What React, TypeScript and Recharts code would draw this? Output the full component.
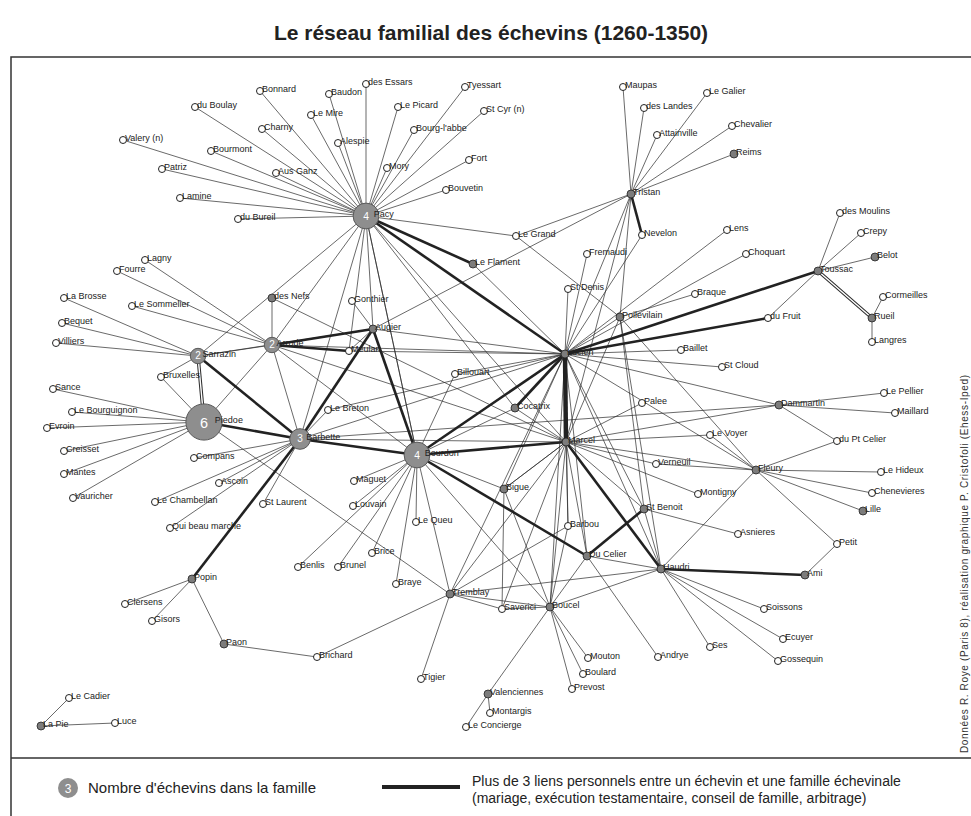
import React from 'react';
import { ScatterChart, Scatter, XAxis, YAxis, ReferenceLine } from 'recharts';

const W = 971;
const H = 816;

// layout position of each family in the network drawing
const OPEN_NODES: [string, number, number][] = [
  ['Bonnard', 260, 91], ['du Boulay', 195, 107], ['Charny', 262, 129], ['Valery (n)', 123, 140],
  ['Bourmont', 211, 151], ['Patriz', 162, 169], ['Aus Ganz', 276, 173], ['Lamine', 180, 198],
  ['du  Bureil', 238, 219], ['Le Mire', 311, 115], ['Baudon', 329, 94], ['des Essars', 366, 84],
  ['Le Picard', 398, 107], ['Tyessart', 465, 87], ['St Cyr (n)', 484, 111], ["Bourg-l'abbe", 414, 130],
  ['Alespie', 338, 143], ['Mory', 387, 168], ['Fort', 469, 160], ['Bouvetin', 446, 190],
  ['Le Grand', 516, 236], ['Maupas', 623, 87], ['des Landes', 644, 108], ['Attainville', 657, 135],
  ['Le Galier', 707, 93], ['Chevalier', 732, 126], ['Nevelon', 642, 235], ['Lens', 727, 230],
  ['des Moulins', 840, 213], ['Crepy', 861, 233], ['Lagny', 145, 260], ['Fourre', 117, 271],
  ['La Brosse', 64, 298], ['Le Sommelier', 132, 306], ['Bequet', 62, 323], ['Villiers', 56, 343],
  ['Bruxelles', 161, 377], ['Sance', 53, 389], ['Le Bourguignon', 72, 412], ['Evroin', 47, 428],
  ['Creisset', 64, 451], ['Mantes', 64, 474], ['Vauricher', 73, 498], ['Compans', 194, 458],
  ['Ascoin', 219, 483], ['Le Chambellan', 155, 502], ['St Laurent', 263, 504], ['Qui beau marche', 170, 528],
  ['Fremaudi', 587, 254], ['St Denis', 568, 289], ['Gonthier', 352, 301], ['Meulan', 349, 351],
  ['Billouart', 455, 374], ['Le Breton', 328, 410], ['Choquart', 746, 254], ['Braque', 695, 294],
  ['Cormeilles', 883, 297], ['du Fruit', 768, 318], ['Langres', 872, 342], ['Baillet', 681, 350],
  ['St Cloud', 722, 367], ['Le Pellier', 884, 393], ['Palee', 642, 403], ['Maillard', 895, 413],
  ['Le Voyer', 710, 435], ['du Pt Celier', 837, 441], ['Verneuil', 656, 464], ['Le Hideux', 881, 472],
  ['Chenevieres', 872, 493], ['Montigny', 698, 494], ['Asnieres', 738, 534], ['Petit', 837, 544],
  ['Maguet', 354, 481], ['Louvain', 353, 506], ['Le Queu', 416, 522], ['Barbou', 568, 526],
  ['Brice', 372, 553], ['Brunel', 338, 567], ['Benlis', 298, 567], ['Braye', 396, 584],
  ['Clersens', 125, 604], ['Gisors', 152, 621], ['Brichard', 317, 657], ['Le Cadier', 69, 698],
  ['Luce', 115, 723], ['Saverici', 502, 609], ['Mouton', 588, 658], ['Boulard', 583, 674],
  ['Tigier', 421, 679], ['Prevost', 572, 689], ['Montargis', 490, 713], ['Le Concierge', 466, 727],
  ['Soissons', 764, 609], ['Ecuyer', 783, 639], ['Ses', 710, 647], ['Andrye', 658, 657],
  ['Gossequin', 778, 661],
];

// familles échevinales (one échevin)
const FILLED_NODES: [string, number, number][] = [
  ['Tristan', 631, 194], ['Reims', 734, 154], ['des Nefs', 272, 298], ['Le Flament', 473, 264],
  ['Augier', 373, 329], ['Poilevilain', 620, 317], ['Lucien', 565, 354], ['Cocatrix', 515, 408],
  ['Belot', 875, 257], ['Toussac', 818, 271], ['Rueil', 872, 318], ['Dammartin', 779, 405],
  ['Marcel', 566, 442], ['Bigue', 504, 489], ['Du Celier', 587, 556], ['Fleury', 756, 470],
  ['St Benoit', 644, 509], ['Lille', 863, 511], ['Haudri', 661, 569], ['Ami', 805, 575],
  ['Popin', 192, 579], ['Tremblay', 450, 594], ['Boucel', 550, 607], ['Paon', 224, 644],
  ['Valenciennes', 488, 694], ['La Pie', 41, 726],
];

// families with several échevins: name, x, y, count
const BIG_NODES: [string, number, number, number][] = [
  ['Pacy', 366, 216, 4], ['Piedoe', 204, 422, 6], ['Sarrazin', 198, 356, 2],
  ['Arrode', 272, 345, 2], ['Barbette', 300, 439, 3], ['Bourdon', 417, 455, 4],
];

const THIN_EDGES: [string, string][] = [
  ['Pacy', 'Bonnard'], ['Pacy', 'du Boulay'], ['Pacy', 'Charny'], ['Pacy', 'Valery (n)'],
  ['Pacy', 'Bourmont'], ['Pacy', 'Patriz'], ['Pacy', 'Aus Ganz'], ['Pacy', 'Lamine'],
  ['Pacy', 'du  Bureil'], ['Pacy', 'Le Mire'], ['Pacy', 'Baudon'], ['Pacy', 'des Essars'],
  ['Pacy', 'Le Picard'], ['Pacy', 'Tyessart'], ['Pacy', 'St Cyr (n)'], ['Pacy', "Bourg-l'abbe"],
  ['Pacy', 'Alespie'], ['Pacy', 'Mory'], ['Pacy', 'Fort'], ['Pacy', 'Bouvetin'],
  ['Pacy', 'Le Grand'], ['Pacy', 'Arrode'], ['Pacy', 'Sarrazin'], ['Pacy', 'Barbette'],
  ['Pacy', 'Bourdon'], ['Pacy', 'Augier'], ['Pacy', 'Cocatrix'], ['Pacy', 'Marcel'], ['Pacy', 'Meulan'],
  ['Tristan', 'Maupas'], ['Tristan', 'des Landes'], ['Tristan', 'Attainville'], ['Tristan', 'Le Galier'],
  ['Tristan', 'Chevalier'], ['Tristan', 'Reims'], ['Tristan', 'Le Grand'], ['Tristan', 'Lucien'],
  ['Tristan', 'Augier'], ['Tristan', 'Poilevilain'], ['Tristan', 'Marcel'],
  ['Le Grand', 'Poilevilain'],
  ['Lucien', 'St Denis'], ['Lucien', 'Fremaudi'], ['Lucien', 'Nevelon'], ['Lucien', 'Lens'],
  ['Lucien', 'Choquart'], ['Lucien', 'Poilevilain'], ['Lucien', 'Baillet'], ['Lucien', 'St Cloud'],
  ['Lucien', 'Dammartin'], ['Lucien', 'Fleury'], ['Lucien', 'Haudri'], ['Lucien', 'St Benoit'],
  ['Lucien', 'Du Celier'], ['Lucien', 'Boucel'], ['Lucien', 'Barbou'], ['Lucien', 'Bigue'],
  ['Lucien', 'Le Flament'], ['Lucien', 'Augier'], ['Lucien', 'Arrode'], ['Lucien', 'Meulan'],
  ['Lucien', 'Le Breton'], ['Lucien', 'Billouart'], ['Lucien', 'Barbette'], ['Lucien', 'Tremblay'],
  ['Marcel', 'Palee'], ['Marcel', 'Le Voyer'], ['Marcel', 'Verneuil'], ['Marcel', 'Montigny'],
  ['Marcel', 'Fleury'], ['Marcel', 'Dammartin'], ['Marcel', 'St Benoit'], ['Marcel', 'Du Celier'],
  ['Marcel', 'Boucel'], ['Marcel', 'Barbou'], ['Marcel', 'Bigue'], ['Marcel', 'Tremblay'],
  ['Marcel', 'Saverici'], ['Marcel', 'Cocatrix'], ['Marcel', 'Barbette'], ['Marcel', 'Arrode'],
  ['Marcel', 'Poilevilain'], ['Marcel', 'des Nefs'],
  ['Poilevilain', 'Braque'], ['Poilevilain', 'Fleury'], ['Poilevilain', 'Haudri'], ['Poilevilain', 'St Benoit'],
  ['Dammartin', 'Le Pellier'], ['Dammartin', 'Maillard'], ['Dammartin', 'du Pt Celier'], ['Dammartin', 'Barbette'],
  ['Fleury', 'du Pt Celier'], ['Fleury', 'Le Hideux'], ['Fleury', 'Chenevieres'], ['Fleury', 'Lille'],
  ['Fleury', 'Petit'], ['Fleury', 'Haudri'], ['Fleury', 'Le Voyer'], ['Fleury', 'Verneuil'],
  ['Haudri', 'Soissons'], ['Haudri', 'Ecuyer'], ['Haudri', 'Gossequin'], ['Haudri', 'Ses'],
  ['Haudri', 'St Benoit'], ['Haudri', 'Boucel'], ['Haudri', 'Tremblay'], ['Haudri', 'Du Celier'],
  ['St Benoit', 'Asnieres'],
  ['Boucel', 'Mouton'], ['Boucel', 'Boulard'], ['Boucel', 'Prevost'], ['Boucel', 'Valenciennes'],
  ['Boucel', 'Saverici'], ['Boucel', 'Tremblay'], ['Boucel', 'Bigue'], ['Boucel', 'Du Celier'],
  ['Boucel', 'Bourdon'], ['Boucel', 'Barbou'],
  ['Valenciennes', 'Montargis'], ['Valenciennes', 'Le Concierge'],
  ['Tremblay', 'Tigier'], ['Tremblay', 'Brichard'], ['Tremblay', 'Saverici'], ['Tremblay', 'Piedoe'],
  ['Tremblay', 'Barbou'], ['Tremblay', 'Bourdon'],
  ['Popin', 'Clersens'], ['Popin', 'Gisors'], ['Popin', 'Paon'], ['Paon', 'Brichard'],
  ['La Pie', 'Le Cadier'], ['La Pie', 'Luce'], ['Andrye', 'Du Celier'],
  ['Bigue', 'Bourdon'], ['Bigue', 'Marcel'], ['Bigue', 'Saverici'],
  ['Bourdon', 'Maguet'], ['Bourdon', 'Louvain'], ['Bourdon', 'Le Queu'], ['Bourdon', 'Brice'],
  ['Bourdon', 'Brunel'], ['Bourdon', 'Braye'], ['Bourdon', 'Benlis'], ['Bourdon', 'Cocatrix'],
  ['Bourdon', 'Billouart'], ['Bourdon', 'Pacy'],
  ['Barbette', 'Compans'], ['Barbette', 'Ascoin'], ['Barbette', 'Le Chambellan'], ['Barbette', 'St Laurent'],
  ['Barbette', 'Qui beau marche'], ['Barbette', 'Arrode'], ['Barbette', 'Le Breton'],
  ['Piedoe', 'Sance'], ['Piedoe', 'Le Bourguignon'], ['Piedoe', 'Evroin'], ['Piedoe', 'Creisset'],
  ['Piedoe', 'Mantes'], ['Piedoe', 'Vauricher'], ['Piedoe', 'Bruxelles'], ['Piedoe', 'Arrode'],
  ['Sarrazin', 'Villiers'], ['Sarrazin', 'Bequet'], ['Sarrazin', 'La Brosse'], ['Sarrazin', 'Bruxelles'],
  ['Sarrazin', 'Arrode'], ['Sarrazin', 'Augier'],
  ['Arrode', 'Fourre'], ['Arrode', 'Lagny'], ['Arrode', 'Le Sommelier'], ['Arrode', 'des Nefs'],
  ['Arrode', 'Bourdon'],
  ['Augier', 'Gonthier'], ['Augier', 'Meulan'],
  ['Toussac', 'des Moulins'], ['Toussac', 'Crepy'], ['Toussac', 'Belot'], ['Toussac', 'du Fruit'],
  ['Rueil', 'Cormeilles'], ['Rueil', 'Langres'], ['Ami', 'Petit'],
];

// plus de 3 liens personnels
const THICK_EDGES: [string, string][] = [
  ['Pacy', 'Le Flament'], ['Pacy', 'Lucien'], ['Arrode', 'Meulan'], ['Arrode', 'Augier'],
  ['Augier', 'Barbette'], ['Augier', 'Bourdon'], ['Sarrazin', 'Barbette'], ['Piedoe', 'Barbette'],
  ['Barbette', 'Bourdon'], ['Barbette', 'Popin'], ['Bourdon', 'Marcel'], ['Bourdon', 'Lucien'],
  ['Bourdon', 'Du Celier'], ['Cocatrix', 'Lucien'], ['Lucien', 'Toussac'], ['Lucien', 'du Fruit'],
  ['Tristan', 'Nevelon'], ['Haudri', 'Ami'], ['St Benoit', 'Du Celier'], ['Marcel', 'Haudri'],
];

const HEAVY_EDGES: [string, string][] = [['Lucien', 'Marcel']];

const DOUBLE_EDGES: [string, string][] = [['Sarrazin', 'Piedoe'], ['Toussac', 'Rueil']];

type Node = { name: string; x: number; y: number; kind: 'open' | 'filled' | 'big'; n: number };

const nodes: Node[] = [
  ...OPEN_NODES.map(([name, x, y]) => ({ name, x, y, kind: 'open' as const, n: 0 })),
  ...FILLED_NODES.map(([name, x, y]) => ({ name, x, y, kind: 'filled' as const, n: 1 })),
  ...BIG_NODES.map(([name, x, y, n]) => ({ name, x, y, kind: 'big' as const, n })),
];
const byName: Record<string, Node> = {};
nodes.forEach((d) => (byName[d.name] = d));

const FONT = '"Liberation Sans", Arial, sans-serif';

const bigRadius = (n: number) => 2.5 + 2.6 * n;

const NodeShape = (props: any) => {
  const { cx, cy, payload } = props;
  const d: Node = payload;
  if (cx == null || cy == null) return null;
  if (d.kind === 'big') {
    const r = bigRadius(d.n);
    return (
      <g>
        <circle cx={cx} cy={cy} r={r} fill="#8e8e8e" stroke="#5a5a5a" strokeWidth={1} />
        <text x={cx} y={cy + r * 0.33} textAnchor="middle" fill="#fff" fontSize={Math.max(10, r * 0.8)} fontFamily={FONT}>
          {d.n}
        </text>
        <text x={cx + r * 0.6} y={cy + 1} fontSize={9} fill="#222" fontFamily={FONT}>{d.name}</text>
      </g>
    );
  }
  const filled = d.kind === 'filled';
  return (
    <g>
      <circle cx={cx} cy={cy} r={filled ? 4 : 3.5} fill={filled ? '#7c7c7c' : '#fff'} stroke="#222" strokeWidth={filled ? 0.8 : 1} />
      <text x={cx + 2} y={cy + 1} fontSize={9} fill="#222" fontFamily={FONT}>{d.name}</text>
    </g>
  );
};

const seg = (a: string, b: string) => [
  { x: byName[a].x, y: byName[a].y },
  { x: byName[b].x, y: byName[b].y },
];

export default function App() {
  const openData = nodes.filter((d) => d.kind !== 'big');
  const bigData = nodes.filter((d) => d.kind === 'big');
  return (
    <div style={{ position: 'absolute', left: 0, top: 0, width: W, height: H, background: '#fff', overflow: 'hidden' }}>
      <ScatterChart width={W} height={H} margin={{ top: 0, right: 0, bottom: 0, left: 0 }}>
        <XAxis type="number" dataKey="x" domain={[0, W]} hide />
        <YAxis type="number" dataKey="y" domain={[0, H]} reversed hide />
        {THIN_EDGES.map(([a, b], i) => (
          <ReferenceLine key={'t' + i} segment={seg(a, b)} stroke="#2a2a2a" strokeWidth={0.7} />
        ))}
        {THICK_EDGES.map(([a, b], i) => (
          <ReferenceLine key={'k' + i} segment={seg(a, b)} stroke="#222" strokeWidth={2.6} />
        ))}
        {HEAVY_EDGES.map(([a, b], i) => (
          <ReferenceLine key={'h' + i} segment={seg(a, b)} stroke="#222" strokeWidth={4.5} />
        ))}
        {DOUBLE_EDGES.map(([a, b], i) => (
          <ReferenceLine key={'d' + i} segment={seg(a, b)} stroke="#2a2a2a" strokeWidth={3.4} />
        ))}
        {DOUBLE_EDGES.map(([a, b], i) => (
          <ReferenceLine key={'w' + i} segment={seg(a, b)} stroke="#fff" strokeWidth={1.4} />
        ))}
        <Scatter data={openData} shape={NodeShape} isAnimationActive={false} />
        <Scatter data={bigData} shape={NodeShape} isAnimationActive={false} />
      </ScatterChart>
      <svg width={W} height={H} style={{ position: 'absolute', left: 0, top: 0, pointerEvents: 'none' }}>
        <text x={491} y={40} textAnchor="middle" fontSize={21} fontWeight="bold" fill="#222" fontFamily={FONT}>
          Le réseau familial des échevins (1260-1350)
        </text>
        <rect x={11} y={57} width={980} height={800} fill="none" stroke="#333" strokeWidth={1.5} />
        <line x1={11} y1={758} x2={W} y2={758} stroke="#333" strokeWidth={1.5} />
        <text x={968} y={753} transform="rotate(-90 968 753)" fontSize={10} fill="#333" fontFamily={FONT}
          textLength={378} lengthAdjust="spacing">
          Données R. Roye (Paris 8), réalisation graphique P. Cristofoli (Ehess-Iped)
        </text>
        <circle cx={68} cy={788} r={10} fill="#8e8e8e" />
        <text x={68} y={792.5} textAnchor="middle" fontSize={12} fill="#fff" fontFamily={FONT}>3</text>
        <text x={88} y={793} fontSize={15} fill="#222" fontFamily={FONT}>Nombre d'échevins dans la famille</text>
        <line x1={382} y1={787} x2={460} y2={787} stroke="#222" strokeWidth={4} />
        <text x={472} y={786} fontSize={14} fill="#222" fontFamily={FONT}>
          Plus de 3 liens personnels entre un échevin et une famille échevinale
        </text>
        <text x={472} y={803} fontSize={14} fill="#222" fontFamily={FONT}>
          (mariage, exécution testamentaire, conseil de famille, arbitrage)
        </text>
      </svg>
    </div>
  );
}
